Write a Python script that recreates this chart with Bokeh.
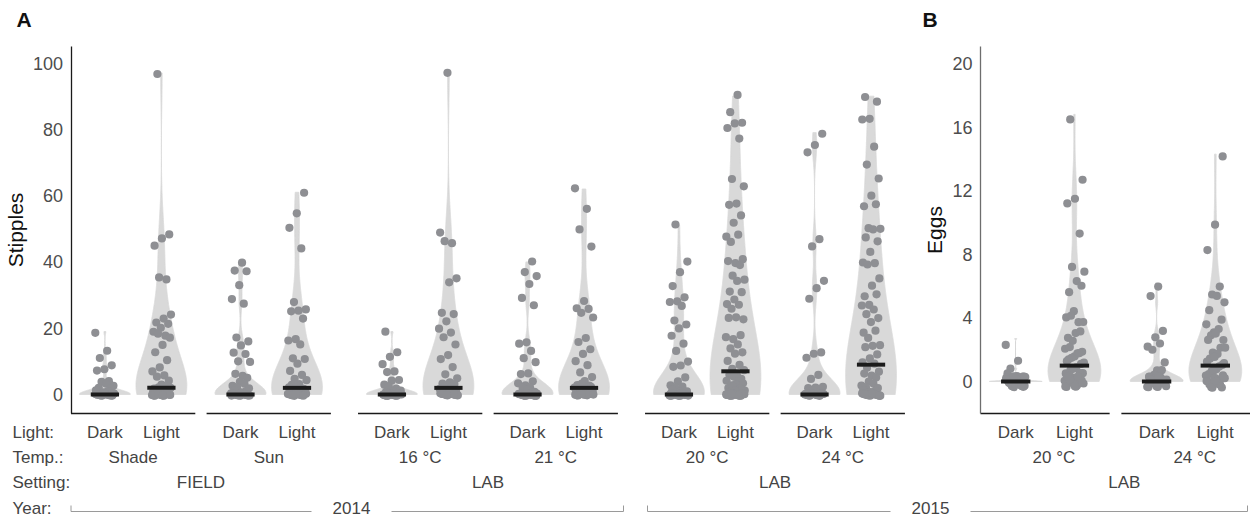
import numpy as np
from bokeh.plotting import figure
from bokeh.models import Range1d, LinearAxis, FixedTicker
from bokeh.core.properties import value
from bokeh.embed import file_html
from bokeh.resources import INLINE

# ------------------------------------------------------------------ data
light_levels = ["Dark", "Light"]
row_headers = ["Light:", "Temp.:", "Setting:", "Year:"]

temps_A = ["Shade", "Sun", "16 °C", "21 °C", "20 °C", "24 °C"]
settings_A = ["FIELD", "FIELD", "LAB", "LAB", "LAB", "LAB"]
years_A = ["2014", "2014", "2014", "2014", "2015", "2015"]
temps_B = ["20 °C", "24 °C"]
settings_B = ["LAB", "LAB"]
years_B = ["2015", "2015"]

stipple_ticks = [0, 20, 40, 60, 80, 100]
egg_ticks = [0, 4, 8, 12, 16, 20]

# Stipples (panel A)
stip_shade_dark = [19, 13, 11, 9, 8, 7, 4, 4, 3, 3, 2, 2, 1, 1, 1,
                   0, 0, 0, 0, 0, 0, 0, 0, 0, 0, 0, 0, 0, 0, 0, 0, 0, 0, 0, 0, 0, 0, 0, 0, 0]
stip_shade_light = [97, 48, 47, 45, 35, 35, 24, 23, 22, 21, 20, 19, 18, 18, 17, 15, 13, 10, 8, 7,
                    6, 5, 4, 3, 2, 2, 2, 2, 2, 1, 1, 1, 1, 1, 1,
                    0, 0, 0, 0, 0, 0, 0, 0, 0, 0, 0, 0, 0, 0, 0]
stip_sun_dark = [40, 37, 37, 33, 29, 27, 17, 16, 15, 13, 12, 10, 10, 6, 6, 5, 4, 3, 3, 2, 2, 1, 1, 1,
                 0, 0, 0, 0, 0, 0, 0, 0, 0, 0, 0, 0, 0, 0, 0, 0, 0, 0, 0, 0, 0, 0, 0, 0, 0, 0, 0, 0, 0, 0]
stip_sun_light = [61, 55, 50, 44, 28, 26, 25, 25, 23, 17, 16, 15, 11, 11, 9, 7, 6, 5, 4, 3, 3,
                  2, 2, 2, 2, 1, 1, 1, 1, 1,
                  0, 0, 0, 0, 0, 0, 0, 0, 0, 0, 0, 0, 0, 0]
stip_16_dark = [19, 13, 11, 9, 7, 7, 4, 4, 3, 2, 2, 1, 1, 1,
                0, 0, 0, 0, 0, 0, 0, 0, 0, 0, 0, 0, 0, 0, 0, 0, 0, 0, 0, 0, 0, 0]
stip_16_light = [97, 49, 46, 46, 35, 34, 25, 24, 22, 20, 19, 17, 15, 12, 11, 8, 6, 5, 4, 3, 3,
                 2, 2, 2, 2, 1, 1, 1, 1, 1,
                 0, 0, 0, 0, 0, 0, 0, 0, 0, 0, 0, 0, 0]
stip_21_dark = [40, 37, 36, 33, 29, 27, 16, 15, 13, 11, 10, 6, 6, 4, 3, 3, 2, 2, 1, 1,
                0, 0, 0, 0, 0, 0, 0, 0, 0, 0, 0, 0, 0, 0, 0, 0, 0, 0, 0, 0, 0, 0, 0, 0, 0, 0]
stip_21_light = [62, 56, 50, 45, 28, 26, 26, 25, 23, 17, 16, 14, 12, 10, 9, 7, 5, 4, 3, 3, 3,
                 2, 2, 2, 2, 1, 1, 1, 1, 1,
                 0, 0, 0, 0, 0, 0, 0, 0, 0, 0, 0, 0, 0]
stip_20_dark = [51, 40, 37, 33, 29, 28, 28, 27, 22, 21, 20, 18, 15, 13, 10, 9, 8, 5, 4, 3, 2, 2, 1, 1, 1,
                0, 0, 0, 0, 0, 0, 0, 0, 0, 0, 0, 0, 0, 0, 0, 0, 0, 0, 0, 0, 0, 0, 0, 0, 0, 0, 0, 0, 0, 0]
stip_20_light = [90, 85, 82, 82, 80, 77, 65, 63, 58, 57, 54, 52, 48, 48, 46, 41, 40, 40, 39, 36,
                 35, 34, 31, 31, 29, 27, 27, 26, 23, 23, 23, 18, 17, 17, 15, 14, 13, 12, 10, 9,
                 8, 7, 6, 6, 5, 5, 4, 4, 3, 3, 3, 2, 2, 2, 1, 1, 1, 1, 1,
                 0, 0, 0, 0, 0, 0, 0, 0, 0, 0, 0, 0, 0, 0, 0, 0, 0, 0, 0, 0, 0, 0, 0, 0]
stip_24_dark = [79, 75, 73, 47, 45, 34, 32, 29, 13, 12, 11, 6, 5, 2, 2, 2, 1, 1,
                0, 0, 0, 0, 0, 0, 0, 0, 0, 0, 0, 0, 0, 0, 0, 0, 0, 0, 0, 0, 0, 0, 0, 0, 0]
stip_24_light = [90, 88, 83, 83, 75, 69, 65, 60, 57, 57, 50, 50, 50, 47, 46, 43, 40, 40, 39, 35,
                 33, 30, 30, 27, 27, 26, 24, 23, 22, 19, 19, 17, 15, 15, 14, 12, 11, 10, 9, 8,
                 7, 6, 6, 5, 4, 3, 3, 2, 2, 1, 1, 1,
                 0, 0, 0, 0, 0, 0, 0, 0, 0, 0, 0, 0, 0, 0, 0, 0, 0, 0, 0, 0, 0, 0, 0, 0, 0]

# Eggs (panel B)
eggs_20_dark = [2.7, 1.1, 0.8, 0.5, 0.4, 0.3, 0.2, 0.2, 0.1, 0.1,
                0, 0, 0, 0, 0, 0, 0, 0, 0, 0, 0, 0, 0, 0, 0, 0, 0, 0, 0, 0, 0, 0, 0, 0, 0]
eggs_20_light = [16.8, 12.4, 11.4, 11.3, 9.6, 6.9, 6.8, 6.4, 5.9, 5.7, 4.3, 4.1, 4.0, 3.8, 3.6,
                 3.1, 3.0, 2.8, 2.4, 2.1, 2.0, 1.8, 1.7, 1.6, 1.5, 1.4, 1.3, 1.2, 1.1, 1.0,
                 0.9, 0.8, 0.7, 0.6, 0.5, 0.5, 0.4, 0.3, 0.3, 0.2, 0.2, 0.1, 0.1,
                 0, 0, 0, 0, 0, 0, 0, 0, 0, 0, 0, 0, 0, 0, 0, 0]
eggs_24_dark = [6.2, 5.0, 3.0, 2.8, 2.4, 2.0, 1.8, 1.2, 0.9, 0.7, 0.5, 0.4, 0.3, 0.2,
                0, 0, 0, 0, 0, 0, 0, 0, 0, 0, 0, 0, 0, 0, 0, 0, 0, 0, 0, 0, 0, 0]
eggs_24_light = [14.3, 10.2, 8.0, 5.9, 5.6, 5.3, 5.1, 4.4, 4.0, 3.4, 3.3, 3.2, 3.0, 2.9, 2.7,
                 2.5, 2.2, 2.1, 1.8, 1.6, 1.5, 1.3, 1.2, 1.1, 1.0, 0.9, 0.8, 0.6, 0.5, 0.4,
                 0.3, 0.2, 0.1,
                 0, 0, 0, 0, 0, 0, 0, 0, 0, 0, 0, 0, 0, 0, 0, 0]

groups_A = [(stip_shade_dark, stip_shade_light), (stip_sun_dark, stip_sun_light),
            (stip_16_dark, stip_16_light), (stip_21_dark, stip_21_light),
            (stip_20_dark, stip_20_light), (stip_24_dark, stip_24_light)]
groups_B = [(eggs_20_dark, eggs_20_light), (eggs_24_dark, eggs_24_light)]

# ------------------------------------------------------------------ layout / style
W, H = 1250, 522
FONT = "Liberation Sans"
VIOLIN = "#d9d9d9"
POINT = "#8e8f93"
BAR = "#1c1c1c"
TXT = "#444444"
BW_ADJUST = 1.6

A_origin_px, A_unit_px = 70.5, 56.5
B_origin_px, B_unit_px = 980.0, 58.7
A_zero_px, A_scale = 394.0, 3.315
B_zero_px, B_scale = 381.0, 15.9
top_px, bottom_px = 46.0, 413.0
row_px = [432, 457, 482, 507.5]
bracket_px = 511.0
year_span_px = {"2014": (70.5, 623.0), "2015": (647.0, 1247.0)}
year_label_px = {"2014": 351.0, "2015": 930.0}
B_label_shift = 0.15

FACET_W, GAP, BIG_GAP = 2.2, 0.2, 0.48


def x_range(origin, unit):
    return Range1d(-origin / unit, (W - origin) / unit)


def y_range(zero, scale):
    return Range1d((zero - H) / scale, zero / scale)


def facet_starts(settings, years):
    starts, s = [], 0.0
    for i in range(len(settings)):
        if i > 0:
            same = (settings[i], years[i]) == (settings[i - 1], years[i - 1])
            s += FACET_W + (GAP if same else BIG_GAP)
        starts.append(s)
    return starts


def nrd0(x):
    x = np.asarray(x, float)
    hi = np.std(x, ddof=1)
    q75, q25 = np.percentile(x, [75, 25])
    lo = min(hi, (q75 - q25) / 1.34)
    if lo <= 0:
        lo = hi if hi > 0 else 1.0
    return 0.9 * lo * len(x) ** -0.2


def violin(vals, cx, half=0.45):
    x = np.asarray(vals, float)
    bw = nrd0(x) * BW_ADJUST
    grid = np.linspace(x.min(), x.max(), 512)
    d = np.exp(-0.5 * ((grid[:, None] - x[None, :]) / bw) ** 2).sum(axis=1)
    hw = half * d / d.max()
    xs = np.concatenate([cx - hw, (cx + hw)[::-1]])
    ys = np.concatenate([grid, grid[::-1]])
    return xs, ys


def jitter(n, phase, wx=0.17, wy=0.4):
    k = np.arange(n)
    jx = ((k * 0.6180339887 + phase) % 1.0 - 0.5) * 2 * wx
    jy = ((k * 0.7548776662 + phase * 0.37) % 1.0 - 0.5) * 2 * wy
    return jx, jy


A_lo, A_hi = (A_zero_px - bottom_px) / A_scale, (A_zero_px - top_px) / A_scale
B_lo, B_hi = (B_zero_px - bottom_px) / B_scale, (B_zero_px - top_px) / B_scale

p = figure(width=W, height=H, min_border=0, x_axis_type=None, y_axis_type=None,
           x_range=x_range(A_origin_px, A_unit_px), y_range=y_range(A_zero_px, A_scale),
           toolbar_location=None, output_backend="svg", outline_line_color=None,
           background_fill_color="white", border_fill_color="white")
p.extra_x_ranges = {"xb": x_range(B_origin_px, B_unit_px), "px": Range1d(0, W)}
p.extra_y_ranges = {"yb": y_range(B_zero_px, B_scale), "py": Range1d(H, 0)}


def style_axis(ax, line_color):
    ax.major_tick_line_color = None
    ax.minor_tick_line_color = None
    ax.major_tick_out = 0
    ax.major_tick_in = 0
    ax.minor_tick_out = 0
    ax.minor_tick_in = 0
    ax.axis_line_color = line_color
    ax.axis_line_width = 1.3
    ax.major_label_text_font = FONT
    ax.major_label_text_font_size = "18px"
    ax.major_label_text_color = "#4d4d4d"
    ax.major_label_standoff = 8
    ax.axis_label_text_font = FONT
    ax.axis_label_text_font_size = "21px"
    ax.axis_label_text_font_style = "normal"
    ax.axis_label_text_color = "#111111"
    ax.axis_label_standoff = 3


ax_a = LinearAxis(fixed_location=0, bounds=(A_lo, A_hi), ticker=FixedTicker(ticks=stipple_ticks),
                  axis_label="Stipples")
style_axis(ax_a, "#1a1a1a")
p.add_layout(ax_a, "left")
ax_b = LinearAxis(x_range_name="xb", y_range_name="yb", fixed_location=0, bounds=(B_lo, B_hi),
                  ticker=FixedTicker(ticks=egg_ticks), axis_label="Eggs")
style_axis(ax_b, "#6e6e6e")
p.add_layout(ax_b, "left")


def draw_panel(groups, temps, settings, years, xname, yname, lo, label_shift):
    starts = facet_starts(settings, years)
    kw = {"x_range_name": xname, "y_range_name": yname}
    phase = 0.0
    for fi, pair in enumerate(groups):
        for li, vals in enumerate(pair):
            cx = starts[fi] + 0.6 + li
            xs, ys = violin(vals, cx)
            p.patch(xs, ys, fill_color=VIOLIN, line_color=VIOLIN, line_width=0.8, **kw)
            jx, jy = jitter(len(vals), phase)
            phase += 0.29
            p.scatter(cx + jx, np.asarray(vals, float) + jy, size=8.2, fill_color=POINT,
                      line_color=None, **kw)
            p.rect([cx], [float(np.median(vals))], width=0.5, height=4, height_units="screen",
                   fill_color=BAR, line_color=None, **kw)
        # facet baseline
        p.segment([starts[fi]], [lo], [starts[fi] + FACET_W], [lo], line_color="#1a1a1a",
                  line_width=1.3, **kw)
    tkw = dict(x_range_name=xname, y_range_name="py", text_font=value(FONT),
               text_font_size="17px", text_color=TXT, text_align="center", text_baseline="middle")
    lx, lt = [], []
    for s in starts:
        for li, name in enumerate(light_levels):
            lx.append(s + 0.6 + li)
            lt.append(name)
    p.text(lx, [row_px[0]] * len(lx), lt, **tkw)
    p.text([s + FACET_W / 2 + label_shift for s in starts], [row_px[1]] * len(starts), temps, **tkw)
    # setting labels: centred over consecutive facets with the same setting/year
    sx, st = [], []
    i = 0
    while i < len(starts):
        j = i
        while j + 1 < len(starts) and (settings[j + 1], years[j + 1]) == (settings[i], years[i]):
            j += 1
        sx.append((starts[i] + starts[j] + FACET_W) / 2 + label_shift)
        st.append(settings[i])
        i = j + 1
    p.text(sx, [row_px[2]] * len(sx), st, **tkw)


draw_panel(groups_A, temps_A, settings_A, years_A, "default", "default", A_lo, 0.0)
draw_panel(groups_B, temps_B, settings_B, years_B, "xb", "yb", B_lo, B_label_shift)

# row headers
p.text([12] * len(row_headers), row_px, row_headers, x_range_name="px", y_range_name="py",
       text_font=value(FONT), text_font_size="17px", text_color=TXT, text_align="left",
       text_baseline="middle")

# year brackets
gap = 40
for yr in ["2014", "2015"]:
    x0, x1 = year_span_px[yr]
    xc = year_label_px[yr]
    p.multi_line([[x0, x0, xc - gap], [xc + gap, x1, x1]],
                 [[bracket_px - 6, bracket_px, bracket_px], [bracket_px, bracket_px, bracket_px - 6]],
                 line_color="#9a9a9a", line_width=1, x_range_name="px", y_range_name="py")
    p.text([xc], [row_px[3]], [yr], x_range_name="px", y_range_name="py", text_font=value(FONT),
           text_font_size="17px", text_color=TXT, text_align="center", text_baseline="middle")

# panel letters
p.text([16, 922], [19, 19], ["A", "B"], x_range_name="px", y_range_name="py",
       text_font=value(FONT), text_font_size="21px", text_font_style="bold",
       text_color="#111111", text_align="left", text_baseline="middle")

open("out.html", "w").write(file_html(p, INLINE))
